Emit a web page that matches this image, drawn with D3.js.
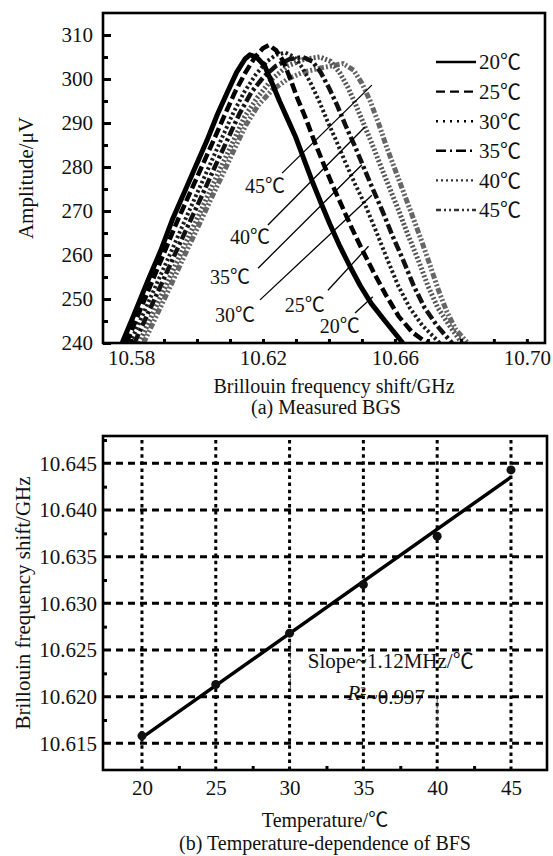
<!DOCTYPE html>
<html>
<head>
<meta charset="utf-8">
<script src="https://cdn.jsdelivr.net/npm/d3@7/dist/d3.min.js"></script>
<style>
  body { margin: 0; background: #fff; }
  text { font-family: "Liberation Serif", "Times New Roman", "Noto Sans CJK SC", serif; fill: #111; }
</style>
</head>
<body>
<svg class="chart" width="553" height="856"></svg>
<script>
// ---- data ----
var temps = [20, 25, 30, 35, 40, 45];
var tempLabels = ["20℃", "25℃", "30℃", "35℃", "40℃", "45℃"];

// panel (a) spectra, [frequency GHz, amplitude uV]
var bgs20 = [[10.5773,240],[10.5812,247],[10.5850,254],[10.5890,261],[10.5925,268],[10.5960,274],[10.5995,280],[10.6030,286],[10.6062,292],[10.6092,297],[10.6120,301.5],[10.6145,304.5],[10.6160,305.5],[10.6180,305],[10.6205,303],[10.6228,299],[10.6250,295],[10.6274,291],[10.6298,287],[10.6323,282],[10.6348,277],[10.6375,272],[10.6403,267],[10.6433,262],[10.6463,257.5],[10.6495,253],[10.6528,249],[10.6570,245],[10.6624,240]];
var bgs25 = [[10.5786,240],[10.5825,247],[10.5864,254],[10.5903,261],[10.5942,268],[10.5978,274],[10.6014,280],[10.6050,286],[10.6085,292],[10.6115,297],[10.6147,301.5],[10.6176,305],[10.6200,307],[10.6218,307.7],[10.6240,306.5],[10.6262,304],[10.6283,300],[10.6305,295.5],[10.6330,291],[10.6355,286],[10.6382,281],[10.6410,276],[10.6440,271],[10.6470,266],[10.6502,261],[10.6536,256],[10.6572,251],[10.6612,246],[10.6652,242.5],[10.6697,240]];
var bgs30 = [[10.5797,240],[10.5839,247],[10.5881,254],[10.5923,261],[10.5964,268],[10.6000,274],[10.6036,280],[10.6072,286],[10.6108,292],[10.6143,297],[10.6178,301],[10.6212,304],[10.6240,305.5],[10.6268,306],[10.6295,305],[10.6320,302.5],[10.6345,299],[10.6370,295],[10.6395,290.5],[10.6422,286],[10.6450,281],[10.6480,276],[10.6512,271],[10.6545,265],[10.6577,259],[10.6610,253],[10.6645,248],[10.6683,244],[10.6736,240]];
var bgs35 = [[10.5810,240],[10.5853,247],[10.5896,254],[10.5938,261],[10.5981,268],[10.6018,274],[10.6054,280],[10.6091,286],[10.6128,292],[10.6165,297],[10.6202,300.5],[10.6240,303],[10.6280,304.5],[10.6320,305],[10.6350,304],[10.6375,301.5],[10.6400,298],[10.6425,294],[10.6450,289.5],[10.6477,285],[10.6505,280],[10.6533,275],[10.6562,270],[10.6592,264.5],[10.6624,259],[10.6657,253],[10.6690,248],[10.6727,244],[10.6773,240]];
var bgs40 = [[10.5825,240],[10.5868,247],[10.5912,254],[10.5955,261],[10.5999,268],[10.6036,274],[10.6073,280],[10.6111,286],[10.6145,291.5],[10.6185,296],[10.6228,300],[10.6275,303],[10.6325,304.5],[10.6372,305],[10.6405,304],[10.6432,301.5],[10.6458,298],[10.6482,294],[10.6507,289.5],[10.6532,285],[10.6558,280],[10.6585,275],[10.6612,270],[10.6640,264.5],[10.6670,259],[10.6700,253],[10.6730,248],[10.6765,244],[10.6803,240]];
var bgs45 = [[10.5838,240],[10.5882,247],[10.5926,254],[10.5969,261],[10.6010,267.5],[10.6047,273.5],[10.6082,279],[10.6116,284.5],[10.6148,289.5],[10.6185,294],[10.6228,297.5],[10.6275,300],[10.6320,301.5],[10.6375,302.5],[10.6443,303.5],[10.6475,302],[10.6500,299],[10.6525,295],[10.6550,290],[10.6575,284.5],[10.6600,279.5],[10.6625,274.5],[10.6650,269.5],[10.6677,264],[10.6705,258],[10.6732,252],[10.6758,247],[10.6785,243],[10.6821,240]];

// callout labels inside panel (a): text spot and pointer line ends
var calloutText = [[10.6433,242.3],[10.6327,247.0],[10.6115,244.8],[10.6100,253.4],[10.6161,262.5],[10.6206,274.1]];
var calloutFrom = [[10.6479,246.8],[10.6397,252.0],[10.6191,249.8],[10.6185,257.0],[10.6215,266.8],[10.6258,278.6]];
var calloutTo = [[10.6533,250.5],[10.6520,262.0],[10.6530,273.6],[10.6500,280.5],[10.6509,289.1],[10.6530,298.6]];

var freqTicks = [10.58, 10.62, 10.66, 10.70];
var freqMinor = [10.58, 10.59, 10.60, 10.61, 10.62, 10.63, 10.64, 10.65, 10.66, 10.67, 10.68, 10.69, 10.70];
var ampTicks = [240, 250, 260, 270, 280, 290, 300, 310];
var ampMinor = [245, 255, 265, 275, 285, 295, 305];

// panel (b)
var bfsMeasured = [10.6158, 10.6213, 10.6268, 10.6320, 10.6372, 10.6443];
var tempTicks = [20, 25, 30, 35, 40, 45];
var tempMinor = [22.5, 27.5, 32.5, 37.5, 42.5];
var bfsTicks = [10.615, 10.620, 10.625, 10.630, 10.635, 10.640, 10.645];
var bfsMinor = [10.6175, 10.6225, 10.6275, 10.6325, 10.6375, 10.6425, 10.6475];

// ---- styles per temperature ----
var curves = [bgs20, bgs25, bgs30, bgs35, bgs40, bgs45];
var curveColor = ["#000", "#000", "#1a1a1a", "#111", "#555", "#666"];
var curveWidth = [5, 4.5, 4, 4.5, 5, 5];
var curveDash = [null, "10,4", "2.5,2.5", "10,3,3,3", "2,2", "6,2,2,2,2,2"];
var legendDash = [null, "9,5", "2,5", "10,4,2,4", "2,3", "5,3,2,3,2,3"];

var svg = d3.select(".chart");
svg.append("rect").attr("width", 553).attr("height", 856).attr("fill", "#fff");

// =============== panel (a) ===============
var x = d3.scaleLinear().domain([10.5715, 10.7055]).range([103, 545]);
var y = d3.scaleLinear().domain([240, 315]).range([343, 13]);

svg.append("defs").append("clipPath").attr("id", "clipA")
  .append("rect").attr("x", 103).attr("y", 13).attr("width", 442).attr("height", 330);

var line = d3.line()
  .x(function(d) { return x(d[0]); })
  .y(function(d) { return y(d[1]); })
  .curve(d3.curveLinear);

var gCurves = svg.append("g").attr("clip-path", "url(#clipA)");
// draw warm ones last so the black 20C sits on top
[5, 4, 3, 2, 1, 0].forEach(function(i) {
  gCurves.append("path")
    .attr("d", line(curves[i]))
    .attr("fill", "none")
    .attr("stroke", curveColor[i])
    .attr("stroke-width", curveWidth[i])
    .attr("stroke-linejoin", "round")
    .attr("stroke-dasharray", curveDash[i]);
});

// callouts
temps.forEach(function(t, i) {
  svg.append("line")
    .attr("x1", x(calloutFrom[i][0])).attr("y1", y(calloutFrom[i][1]))
    .attr("x2", x(calloutTo[i][0])).attr("y2", y(calloutTo[i][1]))
    .attr("stroke", "#000").attr("stroke-width", 1.3);
  svg.append("text")
    .attr("x", x(calloutText[i][0]))
    .attr("y", y(calloutText[i][1]))
    .attr("text-anchor", "middle")
    .style("font-size", "20px")
    .text(tempLabels[i]);
});

// axes (ticks point inward)
svg.append("g").attr("transform", "translate(103,0)")
  .call(d3.axisLeft(y).tickValues(ampTicks).tickSizeInner(-8).tickSizeOuter(0).tickPadding(10).tickFormat(d3.format("d")));
svg.append("g").attr("transform", "translate(103,0)")
  .call(d3.axisLeft(y).tickValues(ampMinor).tickSizeInner(-5).tickSizeOuter(0).tickFormat(""));
svg.append("g").attr("transform", "translate(0,343)")
  .call(d3.axisBottom(x).tickValues(freqTicks).tickSizeInner(0).tickSizeOuter(0).tickPadding(7).tickFormat(d3.format(".2f")));
svg.append("g").attr("transform", "translate(0,343)")
  .call(d3.axisBottom(x).tickValues(freqMinor).tickSizeInner(-4).tickSizeOuter(0).tickFormat(""));

svg.selectAll(".domain").remove();
svg.selectAll(".tick line").attr("stroke", "#000").attr("stroke-width", 3);
svg.selectAll(".tick text").style("font-size", "21px").attr("fill", "#111")
  .style("font-family", "'Liberation Serif', serif");

svg.append("rect").attr("x", 103).attr("y", 13).attr("width", 442).attr("height", 330)
  .attr("fill", "none").attr("stroke", "#000").attr("stroke-width", 2.6);

// legend
temps.forEach(function(t, i) {
  var ly = 62 + i * 29.6;
  svg.append("line")
    .attr("x1", 436).attr("x2", 476).attr("y1", ly).attr("y2", ly)
    .attr("stroke", i < 4 ? "#000" : "#333")
    .attr("stroke-width", 2.4)
    .attr("stroke-dasharray", legendDash[i]);
  svg.append("text")
    .attr("x", 479).attr("y", ly).attr("dy", "0.35em")
    .style("font-size", "21px")
    .text(tempLabels[i]);
});

svg.append("text")
  .attr("transform", "translate(33,178) rotate(-90)")
  .attr("text-anchor", "middle")
  .style("font-size", "21px")
  .text("Amplitude/μV");
svg.append("text").attr("x", 334).attr("y", 393).attr("text-anchor", "middle")
  .style("font-size", "20px").text("Brillouin frequency shift/GHz");
svg.append("text").attr("x", 326).attr("y", 414).attr("text-anchor", "middle")
  .style("font-size", "20px").text("(a) Measured BGS");

// =============== panel (b) ===============
var xb = d3.scaleLinear().domain([17.36, 47.44]).range([103, 547]);
var yb = d3.scaleLinear().domain([10.61214, 10.64793]).range([770, 436]);

// grid
svg.append("g").selectAll("line.hgrid").data(bfsTicks).enter().append("line")
  .attr("x1", 104).attr("x2", 546)
  .attr("y1", function(d) { return yb(d); }).attr("y2", function(d) { return yb(d); })
  .attr("stroke", "#000").attr("stroke-width", 3).attr("stroke-dasharray", "7,5");
svg.append("g").selectAll("line.vgrid").data(tempTicks).enter().append("line")
  .attr("x1", function(d) { return xb(d); }).attr("x2", function(d) { return xb(d); })
  .attr("y1", 440).attr("y2", 769)
  .attr("stroke", "#000").attr("stroke-width", 3).attr("stroke-dasharray", "3.5,3.6");

// least-squares fit from the measured points
var mT = d3.mean(temps), mB = d3.mean(bfsMeasured);
var slope = d3.sum(temps, function(t, i) { return (t - mT) * (bfsMeasured[i] - mB); }) /
  d3.sum(temps, function(t) { return (t - mT) * (t - mT); });
var fitPts = [temps[0], temps[temps.length - 1]].map(function(t) { return [t, mB + slope * (t - mT)]; });

svg.append("line")
  .attr("x1", xb(fitPts[0][0])).attr("y1", yb(fitPts[0][1]))
  .attr("x2", xb(fitPts[1][0])).attr("y2", yb(fitPts[1][1]))
  .attr("stroke", "#000").attr("stroke-width", 3.5);

svg.append("g").selectAll("circle").data(temps).enter().append("circle")
  .attr("cx", function(d) { return xb(d); })
  .attr("cy", function(d, i) { return yb(bfsMeasured[i]); })
  .attr("r", 4.5)
  .attr("fill", "#111");

// thin leftovers of the text box
svg.append("line").attr("x1", xb(30.05)).attr("x2", xb(30.05)).attr("y1", yb(10.6258)).attr("y2", yb(10.6205))
  .attr("stroke", "#444").attr("stroke-width", 1).attr("stroke-dasharray", "4,2");
svg.append("line").attr("x1", xb(40)).attr("x2", xb(40)).attr("y1", yb(10.6198)).attr("y2", yb(10.6167))
  .attr("stroke", "#444").attr("stroke-width", 1).attr("stroke-dasharray", "4,2");

svg.append("text").attr("x", xb(36.85)).attr("y", yb(10.6231)).attr("text-anchor", "middle")
  .style("font-size", "21px").text("Slope~1.12MHz/℃");
var r2 = svg.append("text").attr("x", xb(36.55)).attr("y", yb(10.6196)).attr("text-anchor", "middle")
  .style("font-size", "21px");
r2.append("tspan").style("font-style", "italic").text("R");
r2.append("tspan").attr("dy", "-0.45em").style("font-size", "12px").text("2");
r2.append("tspan").attr("dy", "0.45em").text("~0.997");

// axes
svg.append("g").attr("class", "axB").attr("transform", "translate(103,0)")
  .call(d3.axisLeft(yb).tickValues(bfsTicks).tickSizeInner(0).tickSizeOuter(0).tickPadding(6).tickFormat(d3.format(".3f")));
svg.append("g").attr("class", "axB").attr("transform", "translate(103,0)")
  .call(d3.axisLeft(yb).tickValues(bfsMinor).tickSizeInner(-4).tickSizeOuter(0).tickFormat(""));
svg.append("g").attr("class", "axB").attr("transform", "translate(0,770)")
  .call(d3.axisBottom(xb).tickValues(tempTicks).tickSizeInner(0).tickSizeOuter(0).tickPadding(10).tickFormat(d3.format("d")));
svg.append("g").attr("class", "axB").attr("transform", "translate(0,770)")
  .call(d3.axisBottom(xb).tickValues(tempMinor).tickSizeInner(-4).tickSizeOuter(0).tickFormat(""));

svg.selectAll(".axB .domain").remove();
svg.selectAll(".axB .tick line").attr("stroke", "#000").attr("stroke-width", 3);
svg.selectAll(".axB .tick text").style("font-size", "21px").attr("fill", "#111")
  .style("font-family", "'Liberation Serif', serif");

svg.append("rect").attr("x", 103).attr("y", 436).attr("width", 444).attr("height", 334)
  .attr("fill", "none").attr("stroke", "#000").attr("stroke-width", 2.6);

svg.append("text")
  .attr("transform", "translate(30,603) rotate(-90)")
  .attr("text-anchor", "middle")
  .style("font-size", "21px")
  .text("Brillouin frequency shift/GHz");
svg.append("text").attr("x", 325).attr("y", 827).attr("text-anchor", "middle")
  .style("font-size", "20px").text("Temperature/℃");
svg.append("text").attr("x", 325).attr("y", 850).attr("text-anchor", "middle")
  .style("font-size", "20px").text("(b) Temperature-dependence of BFS");
</script>
</body>
</html>
